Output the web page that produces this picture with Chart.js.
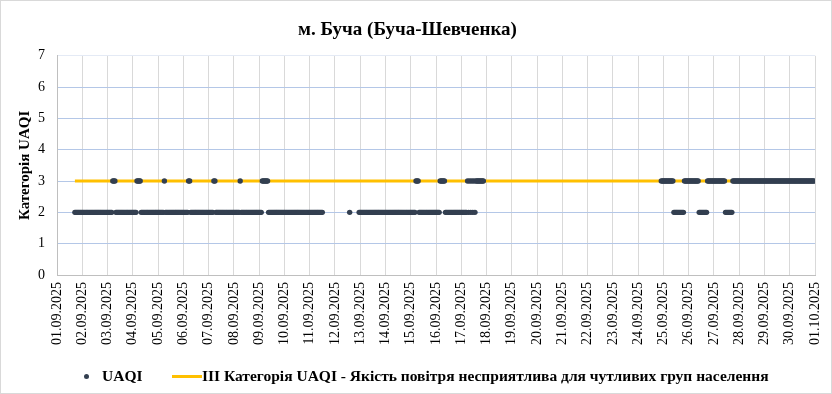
<!DOCTYPE html>
<html>
<head>
<meta charset="utf-8">
<script src="https://cdn.jsdelivr.net/npm/chart.js@4"></script>
<style>
  body { margin: 0; background: #fff; }
  #wrap { position: relative; width: 832px; height: 394px; }
  #frame { position: absolute; left: 0; top: 0; width: 830px; height: 392px; border: 1px solid #d9d9d9; pointer-events: none; }
  #legend { position: absolute; top: 366px; left: 0; width: 832px; height: 20px; font: bold 15.5px "Liberation Serif", serif; color: #000; }
  #legend span { position: absolute; top: 0; line-height: 20px; white-space: nowrap; }
  .dot { position: absolute; width: 5px; height: 5px; border-radius: 50%; background: #333f50; }
  .bar { position: absolute; height: 3px; background: #ffc000; }
</style>
</head>
<body>
<div id="wrap">
  <canvas id="chart" width="832" height="394"></canvas>
  <div id="legend">
    <div class="dot" style="left:84px;top:8px"></div>
    <span style="left:102px">UAQI</span>
    <div class="bar" style="left:172px;top:9px;width:30px"></div>
    <span style="left:202px">III Категорія UAQI - Якість повітря несприятлива для чутливих груп населення</span>
  </div>
  <div id="frame"></div>
</div>
<script>
const titleText = "м. Буча (Буча-Шевченка)";
const yTitle = "Категорія UAQI";

const dayLabels = [
  "01.09.2025", "02.09.2025", "03.09.2025", "04.09.2025", "05.09.2025", "06.09.2025",
  "07.09.2025", "08.09.2025", "09.09.2025", "10.09.2025", "11.09.2025", "12.09.2025",
  "13.09.2025", "14.09.2025", "15.09.2025", "16.09.2025", "17.09.2025", "18.09.2025",
  "19.09.2025", "20.09.2025", "21.09.2025", "22.09.2025", "23.09.2025", "24.09.2025",
  "25.09.2025", "26.09.2025", "27.09.2025", "28.09.2025", "29.09.2025", "30.09.2025",
  "01.10.2025"
];

// hourly UAQI category, one string per day (hour 0..23), "." = no data
const hourlyUaqi = [
  ".................2222222", // 01.09
  "222222222222222222222222", // 02.09
  "222223332222222222222222", // 03.09
  "222233332222222222222222", // 04.09
  "222222322222222222222222", // 05.09
  "222223322222222222222222", // 06.09
  "222223322222222222222222", // 07.09
  "222222322222222222222222", // 08.09
  "222333333222222222222222", // 09.09
  "222222222222222222222222", // 10.09
  "2222222222222...........", // 11.09
  "..............2........2", // 12.09
  "222222222222222222222222", // 13.09
  "222222222222222222222222", // 14.09
  "222223332222222222222222", // 15.09
  "222233333222222222222222", // 16.09
  "2222223232323233333333..", // 17.09
  "........................", // 18.09
  "........................", // 19.09
  "........................", // 20.09
  "........................", // 21.09
  "........................", // 22.09
  "........................", // 23.09
  "......................33", // 24.09
  "333333333322222222223333", // 25.09
  "333333333322222222333333", // 26.09
  "333333333332222222333333", // 27.09
  "333333333333333333333333", // 28.09
  "333333333333333333333333", // 29.09
  "333333333333333333333333"  // 30.09
];

// III category threshold line (days from 01.09 00:00)
const bandX = [17 / 24, 29 + 23 / 24];
const bandY = [3, 3];

const uaqiPoints = [];
hourlyUaqi.forEach((day, d) => {
  for (let h = 0; h < 24; h++) {
    const ch = day[h];
    if (ch && ch !== ".") uaqiPoints.push({ x: d + h / 24, y: Number(ch) });
  }
});
const bandPoints = bandX.map((x, i) => ({ x: x, y: bandY[i] }));

const serif = "'Liberation Serif', 'Times New Roman', serif";

new Chart(document.getElementById("chart").getContext("2d"), {
  type: "line",
  data: {
    datasets: [
      { label: "UAQI", data: uaqiPoints, showLine: false, pointRadius: 2.7, pointBorderWidth: 0,
        pointBackgroundColor: "#333f50", borderColor: "#333f50", pointHoverRadius: 2.7 },
      { label: "III Категорія UAQI - Якість повітря несприятлива для чутливих груп населення",
        data: bandPoints, borderColor: "#ffc000", borderWidth: 3, pointRadius: 0, fill: false }
    ]
  },
  options: {
    animation: false,
    responsive: false,
    layout: { padding: { left: 0, right: 17, top: 0, bottom: 0 } },
    plugins: {
      legend: { display: false },
      tooltip: { enabled: false },
      title: { display: true, text: titleText, color: "#000",
        font: { family: serif, size: 19, weight: "bold" }, padding: { top: 19, bottom: 14 } }
    },
    scales: {
      x: {
        type: "linear", min: 0, max: 30,
        afterFit: s => { s.height = 119; s.paddingLeft = 0; s.paddingRight = 0; },
        ticks: { stepSize: 1, autoSkip: false, minRotation: 90, maxRotation: 90, padding: 7,
          color: "#000", font: { family: serif, size: 14 },
          callback: v => dayLabels[v] },
        grid: { color: "#d9d9d9", drawTicks: false },
        border: { color: "#bfbfbf" }
      },
      y: {
        min: 0, max: 7,
        afterFit: s => { s.width = 57; },
        ticks: { stepSize: 1, padding: 12, color: "#000", font: { family: serif, size: 14 } },
        grid: { drawTicks: false,
          color: c => c.tick.value === 0 ? "#bfbfbf" : (c.tick.value === 7 ? "#e4eaf5" : "#b4c7e7") },
        border: { color: "#bfbfbf" },
        title: { display: true, text: yTitle, color: "#000", padding: { top: 16, bottom: 0 },
          font: { family: serif, size: 15, weight: "bold" } }
      }
    }
  }
});
</script>
</body>
</html>
